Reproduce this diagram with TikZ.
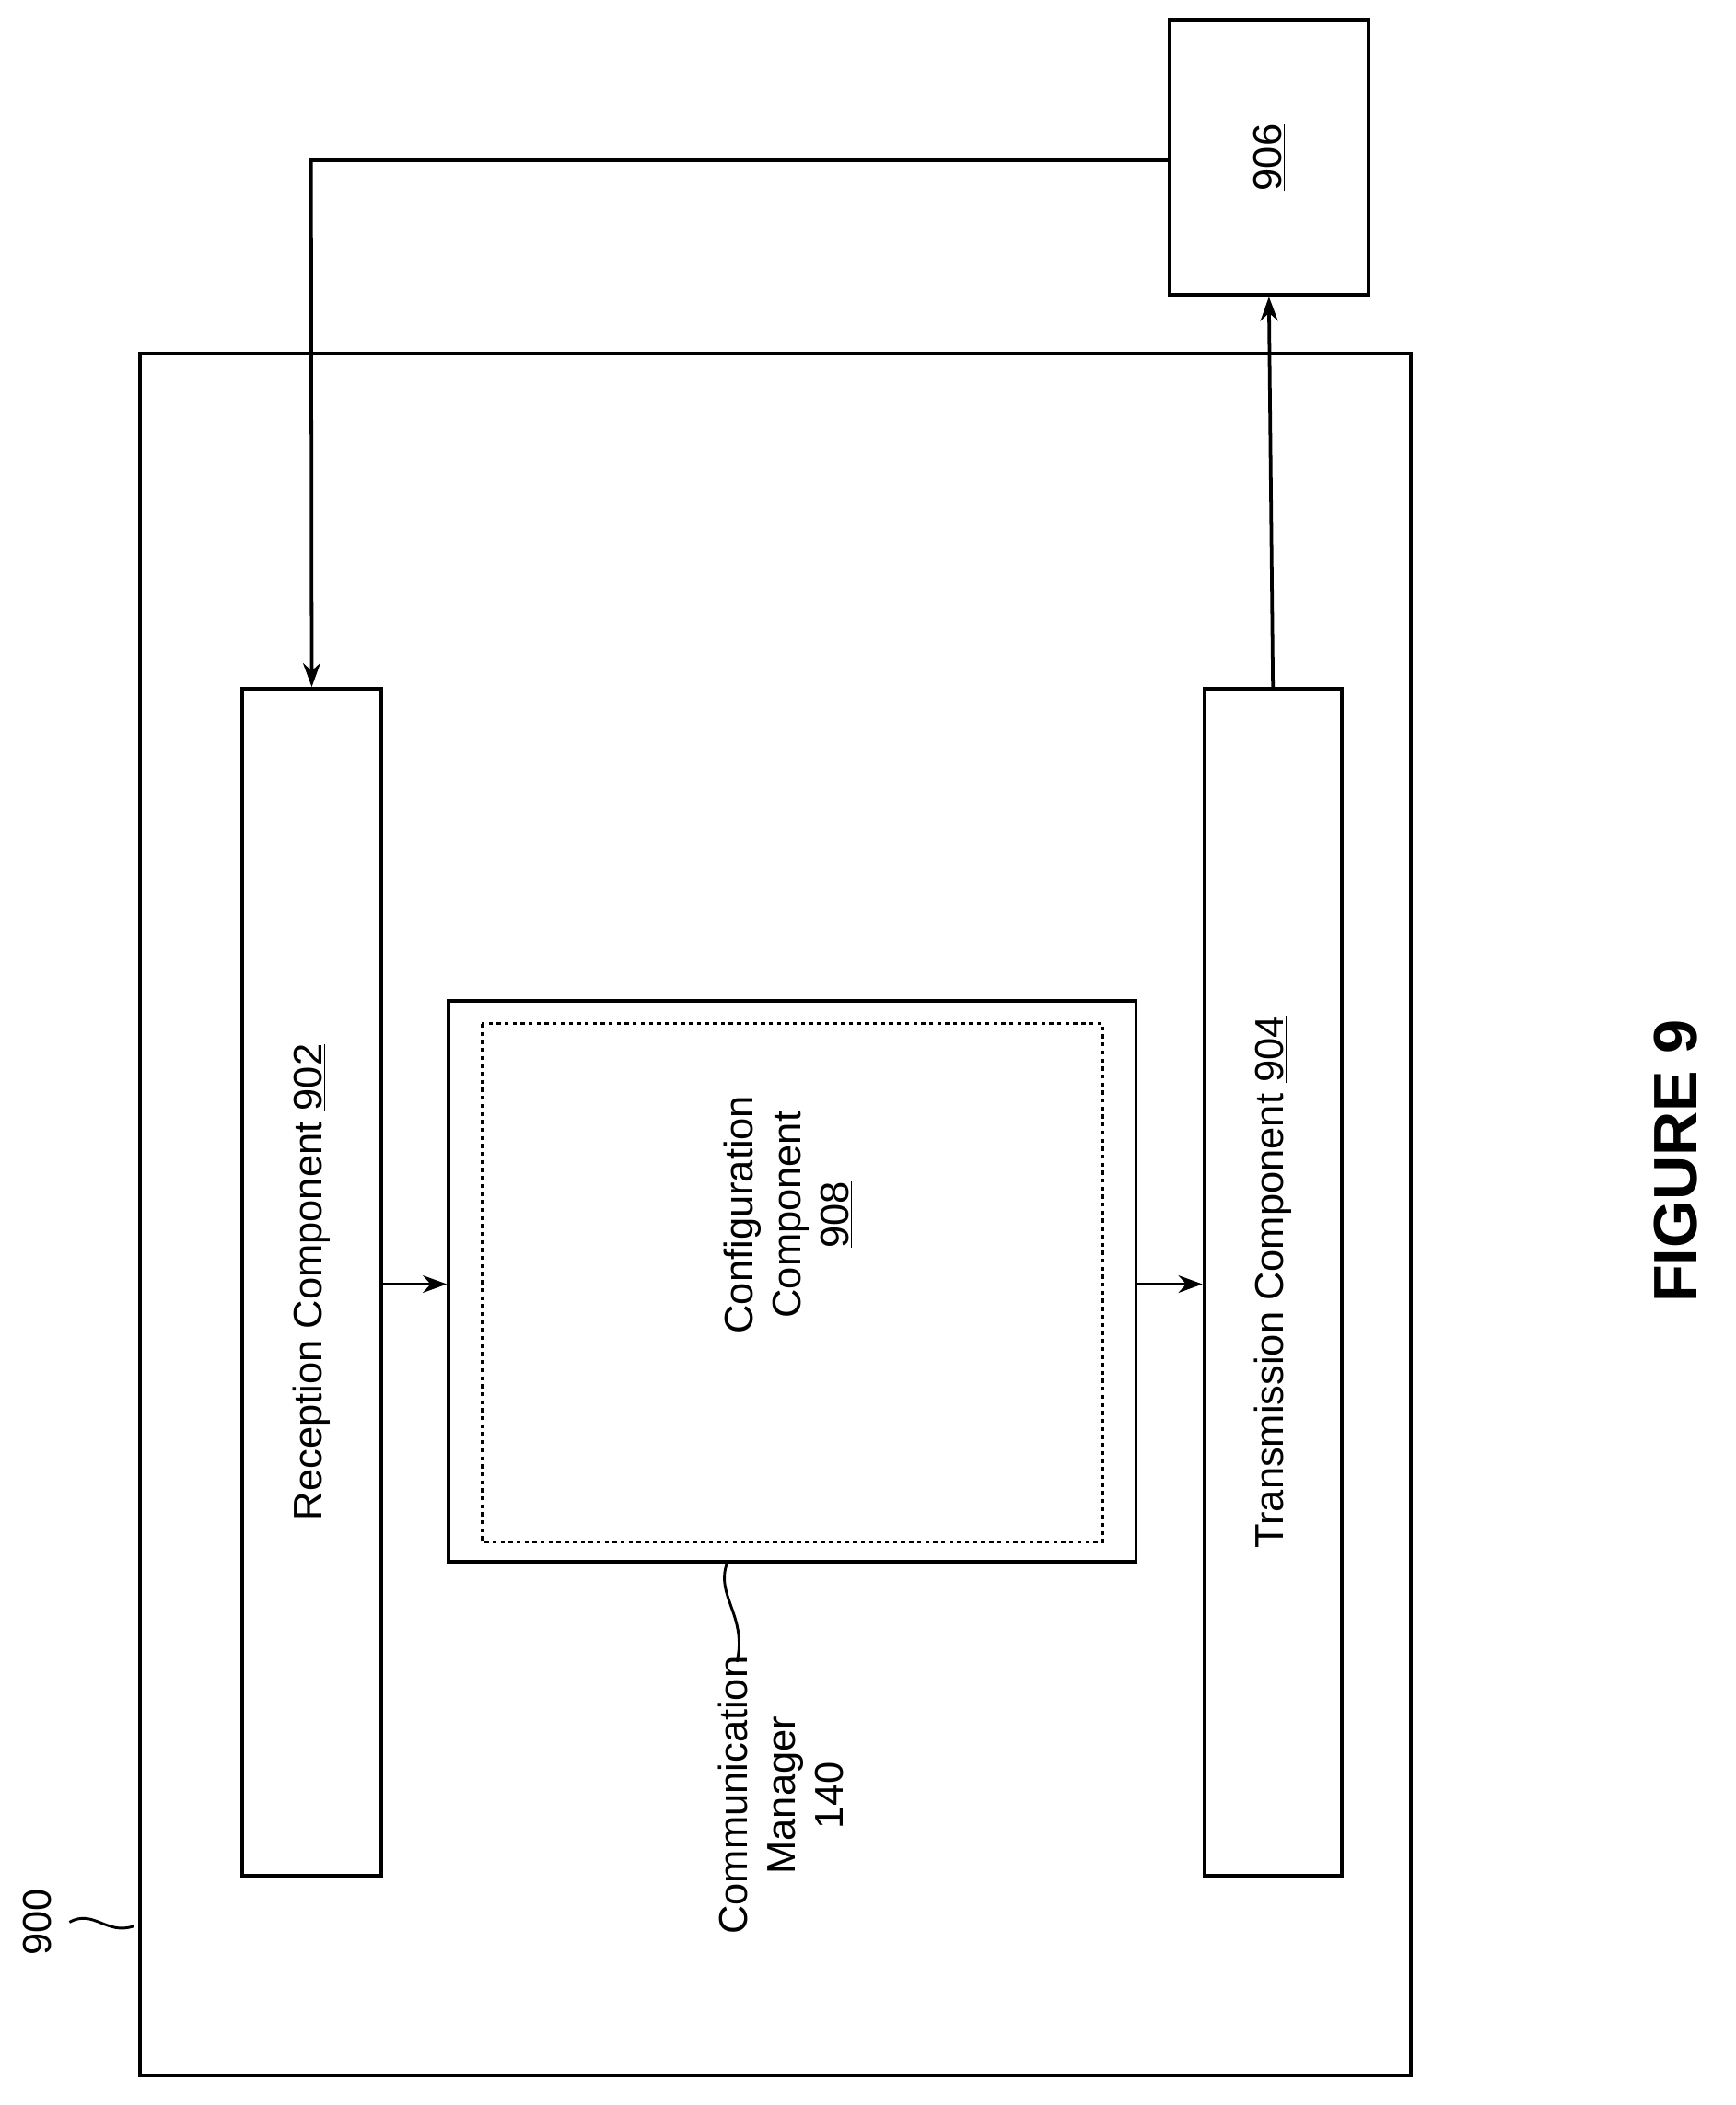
\documentclass[tikz,border=0pt]{standalone}
\usepackage{fontspec}
\setmainfont{Liberation Sans}
\usetikzlibrary{arrows.meta}
\begin{document}
\begin{tikzpicture}[x=1pt,y=-1pt,line width=2.6pt,
  box/.style={draw,line width=2.6pt},
  arr/.style={-{Stealth[length=18pt,width=13pt]},line width=2.6pt},
  lbl/.style={font=\fontsize{30}{36}\selectfont,rotate=90,align=center}]
\useasboundingbox (0,0) rectangle (1300,1577);
\draw[box] (105,265) rectangle (1057,1555);
\node[box,minimum width=104pt,minimum height=889pt,inner sep=0] (rec) at (233.5,960.5) {};
\node[lbl] at (rec) {Reception Component \underline{902}};
\node[box,minimum width=103pt,minimum height=889pt,inner sep=0] (tx) at (953.5,960.5) {};
\node[lbl] at (tx) {Transmission Component \underline{904}};
\node[box,minimum width=515pt,minimum height=420pt,inner sep=0] (cm) at (593.5,960) {};
\draw[dashed,line width=2pt] (361,767) rectangle (826,1155);
\node[lbl] (cfg) at (590,910) {Configuration\\Component\\\underline{908}};
\node[box,minimum width=149pt,minimum height=206pt,inner sep=0] (b906) at (950.5,118) {};
\node[lbl] at (b906) {\underline{906}};
\coordinate (c1) at (233,120);
\draw[arr] (b906.west |- c1) -- (c1) -- (rec.north);
\draw[arr] (tx.north) -- (b906.south);
\draw[arr] (rec.east |- 0,962) -- (cm.west |- 0,962);
\draw[arr] (cm.east |- 0,962) -- (tx.west |- 0,962);
\node[lbl] (cmlbl) at (585,1345) {Communication\\Manager\\140};
\draw[line width=2pt] (545,1170) .. controls (535,1195) and (560,1210) .. (552,1245);
\node[lbl] (n900) at (28,1440) {900};
\draw[line width=2pt] (52,1440) .. controls (70,1430) and (80,1450) .. (100,1443);
\node[rotate=90,font=\bfseries\fontsize{46}{54}\selectfont] (fig) at (1255,870) {FIGURE 9};
\end{tikzpicture}
\end{document}
